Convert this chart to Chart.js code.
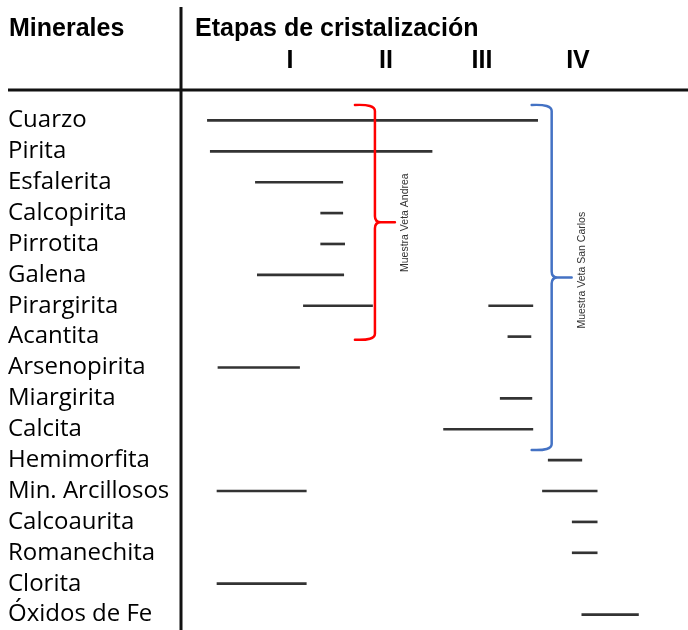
<!DOCTYPE html>
<html lang="es">
<head>
<meta charset="utf-8">
<title>Etapas de cristalización</title>
<script src="https://cdn.jsdelivr.net/npm/chart.js@4.4.1/dist/chart.umd.min.js"></script>
<style>
  html, body { margin: 0; padding: 0; background: #fff; }
  #wrap { width: 688px; height: 630px; }
</style>
</head>
<body>
<div id="wrap"><canvas id="chart" width="688" height="630"></canvas></div>
<script>
// Minerales (filas) y etapas de cristalización (eje superior)
const minerales = ['Cuarzo', 'Pirita', 'Esfalerita', 'Calcopirita', 'Pirrotita', 'Galena',
  'Pirargirita', 'Acantita', 'Arsenopirita', 'Miargirita', 'Calcita', 'Hemimorfita',
  'Min. Arcillosos', 'Calcoaurita', 'Romanechita', 'Clorita', 'Óxidos de Fe'];
const etapas = [1, 2, 3, 4];
const etapasRomanos = ['I', 'II', 'III', 'IV'];

// Rango de cada mineral en unidades de etapa (inicio, fin)
const tramo1 = [[0.14, 3.58], [0.17, 2.48], [0.64, 1.55], [1.32, 1.55], [1.32, 1.57], [0.66, 1.56],
  [1.14, 1.86], null, [0.25, 1.10], null, null, null,
  [0.24, 1.17], null, null, [0.24, 1.17], null];
const tramo2 = [null, null, null, null, null, null,
  [3.07, 3.53], [3.27, 3.51], null, [3.19, 3.52], [2.60, 3.53], [3.69, 4.04],
  [3.63, 4.20], [3.94, 4.20], [3.94, 4.20], null, [4.04, 4.63]];

// Llaves de muestras: filas que abarcan (índices) y posición en etapas
const muestras = [
  { nombre: 'Muestra Veta Andrea', desde: -0.5, hasta: 7.1, etapa: 1.885, texto: 3.31, color: '#ff0000' },
  { nombre: 'Muestra Veta San Carlos', desde: -0.5, hasta: 10.67, etapa: 3.726, texto: 4.85, color: '#4472c4' }
];

function llave(ctx, x, top, bottom, color) {
  const mid = (top + bottom) / 2, r = 6, gancho = 20, punta = 20;
  ctx.save();
  ctx.strokeStyle = color;
  ctx.lineWidth = 2.5;
  ctx.lineCap = 'round';
  ctx.beginPath();
  ctx.moveTo(x - gancho, top);
  ctx.quadraticCurveTo(x, top - 1, x, top + r);
  ctx.lineTo(x, mid - r);
  ctx.quadraticCurveTo(x, mid, x + r, mid);
  ctx.lineTo(x + punta, mid);
  ctx.moveTo(x + r, mid);
  ctx.quadraticCurveTo(x, mid, x, mid + r);
  ctx.lineTo(x, bottom - r);
  ctx.quadraticCurveTo(x, bottom + 1, x - gancho, bottom);
  ctx.stroke();
  ctx.restore();
}

const encabezado = {
  id: 'encabezado',
  afterDraw(chart) {
    const ctx = chart.ctx, area = chart.chartArea;
    const xs = chart.scales.x, ys = chart.scales.y;
    ctx.save();
    // líneas de la tabla
    ctx.strokeStyle = '#111';
    ctx.lineWidth = 3;
    ctx.beginPath();
    ctx.moveTo(area.left, 7);
    ctx.lineTo(area.left, chart.height);
    ctx.moveTo(8, 90);
    ctx.lineTo(chart.width, 90);
    ctx.stroke();
    // títulos
    ctx.fillStyle = '#000';
    ctx.font = 'bold 25px "Liberation Sans", Arial, sans-serif';
    ctx.textBaseline = 'alphabetic';
    ctx.textAlign = 'left';
    ctx.fillText('Minerales', 9, 36);
    ctx.fillText('Etapas de cristalización', 195, 36);
    // llaves de muestras
    muestras.forEach(m => {
      const x = xs.getPixelForValue(m.etapa);
      llave(ctx, x, ys.getPixelForValue(m.desde), ys.getPixelForValue(m.hasta), m.color);
      ctx.save();
      ctx.translate(x + 30, ys.getPixelForValue(m.texto));
      ctx.rotate(-Math.PI / 2);
      ctx.fillStyle = '#333';
      ctx.font = '10.5px "Liberation Sans", Arial, sans-serif';
      ctx.textAlign = 'center';
      ctx.textBaseline = 'middle';
      ctx.fillText(m.nombre, 0, 0);
      ctx.restore();
    });
    ctx.restore();
  }
};

Chart.defaults.font.family = '"Open Sans", sans-serif';

new Chart(document.getElementById('chart').getContext('2d'), {
  type: 'bar',
  data: {
    labels: minerales,
    datasets: [
      { label: 'Tramo 1', data: tramo1, backgroundColor: '#333', borderWidth: 0, barThickness: 2, grouped: false },
      { label: 'Tramo 2', data: tramo2, backgroundColor: '#333', borderWidth: 0, barThickness: 2, grouped: false }
    ]
  },
  options: {
    indexAxis: 'y',
    responsive: false,
    animation: false,
    layout: { padding: { left: 8, top: 0, right: 0, bottom: 0 } },
    plugins: { legend: { display: false }, tooltip: { enabled: false } },
    scales: {
      x: {
        type: 'linear',
        position: 'top',
        min: -0.135,
        max: 5.146,
        grid: { display: false, drawTicks: false },
        border: { display: false },
        afterBuildTicks: s => { s.ticks = etapas.map(v => ({ value: v })); },
        afterFit: s => { s.height = 105; s.paddingLeft = 0; s.paddingRight = 0; },
        ticks: {
          padding: 29,
          color: '#000',
          maxRotation: 0,
          autoSkip: false,
          font: { family: '"Liberation Sans", Arial, sans-serif', size: 25, weight: 'bold' },
          callback: (v, i) => etapasRomanos[i]
        }
      },
      y: {
        grid: { display: false },
        border: { display: false },
        afterFit: s => { s.width = 173; s.paddingTop = 0; s.paddingBottom = 0; },
        ticks: {
          crossAlign: 'far',
          autoSkip: false,
          padding: 0,
          color: '#000',
          font: { size: 24 }
        }
      }
    }
  },
  plugins: [encabezado]
});
</script>
</body>
</html>
